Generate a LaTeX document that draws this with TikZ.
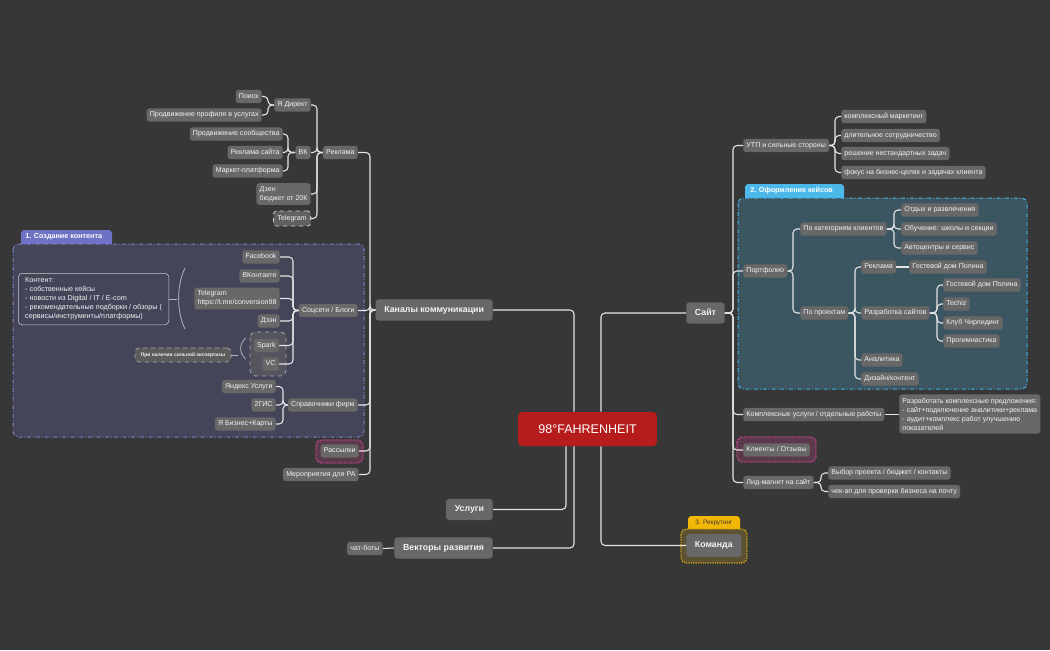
\documentclass[tikz,border=0pt]{standalone}
\usepackage{fontspec}
\setmainfont{Liberation Sans}
\usetikzlibrary{calc}
\definecolor{bgc}{HTML}{373737}
\definecolor{nodec}{HTML}{686868}
\definecolor{txtc}{HTML}{F2F2F2}
\definecolor{linec}{HTML}{E4E4E4}
\definecolor{brkc}{HTML}{B4B4B4}
\definecolor{purfill}{HTML}{45455A}
\definecolor{purline}{HTML}{7C80C8}
\definecolor{purtab}{HTML}{6E72C4}
\definecolor{tealfill}{HTML}{3C5661}
\definecolor{tealline}{HTML}{46B0E2}
\definecolor{tealtab}{HTML}{4CB8EA}
\definecolor{pinkfill}{HTML}{5A3A4A}
\definecolor{pinkline}{HTML}{C4438E}
\definecolor{yelfill}{HTML}{5C5233}
\definecolor{yelline}{HTML}{D6A80C}
\definecolor{yeltab}{HTML}{F2B705}
\definecolor{redc}{HTML}{B71C1C}
\definecolor{sparkfill}{HTML}{55555F}
\definecolor{dashc}{HTML}{A8A8A8}
\definecolor{kontc}{HTML}{CDCDCD}
\definecolor{expfill}{HTML}{5C5C5C}
\definecolor{tabtxt}{HTML}{3A3A3A}
\tikzset{
  conn/.style={draw=linec, line width=0.8pt, rounded corners=3pt},
  brk/.style={draw=brkc, line width=0.6pt},
  grpborder/.style={line width=0.75pt, dash pattern=on 3pt off 1.4pt on 0.7pt off 1.4pt, rounded corners=4pt},
  dotborder/.style={line width=1.1pt, dash pattern=on 0.9pt off 0.9pt, rounded corners=4pt},
  base/.style={fill=nodec, text=txtc, rounded corners=2.2pt, inner xsep=2.4pt},
  leaf/.style={base, font=\fontsize{5.3}{6.4}\selectfont, inner ysep=0pt, minimum height=10.1pt, text height=4.1pt, text depth=1.3pt},
  leafL/.style={leaf, anchor=east},
  leafR/.style={leaf, anchor=west},
  multi/.style={base, font=\fontsize{5.3}{6.75}\selectfont, align=left, inner ysep=2.4pt},
  mainn/.style={base, font=\bfseries\fontsize{6.6}{8}\selectfont, inner xsep=6.5pt, inner ysep=0pt, minimum height=15.8pt, text height=5pt, text depth=1.5pt},
  tabtext/.style={text=white, font=\bfseries\fontsize{5.4}{6}\selectfont, inner sep=0pt, anchor=west},
}
\begin{document}
\begin{tikzpicture}[x=0.75pt,y=-0.75pt]
\fill[bgc] (0,0) rectangle (1050,650);
\useasboundingbox (0,0) rectangle (1050,650);

% ---------- group backgrounds ----------
\fill[purtab, rounded corners=2.5pt] (21,230) rectangle (112,248);
\path[fill=purfill, draw=purline, grpborder] (13,244) rectangle (364,437);
\node[tabtext] (tab1) at (25,237) {1. Создание контента};

\fill[tealtab, rounded corners=2.5pt] (745,184) rectangle (844,201);
\path[fill=tealfill, draw=tealline, grpborder] (738,198) rectangle (1027,389);
\node[tabtext] (tab2) at (750,190.5) {2. Оформление кейсов};

\path[fill=sparkfill, draw=dashc, dashed, line width=0.6pt, rounded corners=4pt] (250,332) rectangle (286,376);
\path[fill=pinkfill, draw=pinkline, dotborder] (316,440) rectangle (363,463);
\path[fill=pinkfill, draw=pinkline, dotborder] (737,437) rectangle (816,462);

\fill[yeltab, rounded corners=2.5pt] (688,516) rectangle (740,532);
\path[fill=yelfill, draw=yelline, dotborder] (681,529) rectangle (747,563);
\node[text=tabtxt, font=\fontsize{4.8}{5.5}\selectfont, inner sep=0pt] (tab3) at (714,522.5) {3. Рекрутинг};

% ---------- centre ----------
\node[fill=redc, text=white, rounded corners=3pt, minimum width=104pt, minimum height=25.5pt,
      font=\fontsize{9.4}{10}\selectfont, inner sep=0pt] (center) at (587.5,429) {98°FAHRENHEIT};

% ---------- main branches ----------
\node[mainn, anchor=east] (kanaly) at (493,310) {Каналы коммуникации};
\node[mainn, anchor=east] (uslugi) at (493,509.5) {Услуги};
\node[mainn, anchor=east] (vektory) at (493,548) {Векторы развития};
\node[mainn, anchor=west] (sait) at (686,313) {Сайт};
\node[mainn, anchor=west, minimum height=17pt] (komanda) at (686,545.5) {Команда};

% ---------- left: Реклама ----------
\node[leafL] (poisk) at (262,96.5) {Поиск};
\node[leafL] (prodv) at (262,115) {Продвижение профиля в услугах};
\node[leafL] (direct) at (311,105) {Я Директ};
\node[leafL] (soob) at (283,134) {Продвижение сообщества};
\node[leafL] (rsite) at (283,152.5) {Реклама сайта};
\node[leafL] (market) at (283,171) {Маркет-платформа};
\node[leafL] (vk) at (311,152.5) {ВК};
\node[leafL] (reklama) at (358,152.5) {Реклама};
\node[multi, anchor=east] (dzen1) at (311,194) {Дзен\\бюджет от 20К};
\node[leafL, fill=nodec!92!black, draw=kontc, dashed, line width=0.6pt, minimum height=11.3pt, inner xsep=3pt] (tg1) at (311,218.5) {Telegram};

% ---------- left: Соцсети ----------
\node[leafL] (facebook) at (280,257) {Facebook};
\node[leafL] (vkont) at (280,276) {ВКонтакте};
\node[multi, anchor=east] (tgsoc) at (280,298.5) {Telegram\\https://t.me/conversion98};
\node[leafL] (dzen2) at (280,321) {Дзэн};
\node[leafL] (spark) at (279,345.5) {Spark};
\node[leafL] (vc) at (279,364) {VC};
\node[leafL] (socseti) at (358,310.5) {Соцсети / Блоги};
\node[draw=kontc, rounded corners=3pt, anchor=north west, align=left, text=txtc,
      font=\fontsize{5.4}{6.75}\selectfont, inner xsep=5.2pt, inner ysep=3.4pt] (kontent) at (18,273)
 {Контент:\\- собственные кейсы\\- новости из Digital / IT / E-com\\- рекомендательные подборки / обзоры (\\сервисы/инструменты/платформы)};
\node[fill=expfill, draw=dashc, dashed, line width=0.6pt, rounded corners=3pt, text=txtc,
      font=\bfseries\fontsize{3.7}{4}\selectfont, minimum width=72pt, minimum height=10.5pt, inner sep=0pt] (expert) at (183,355) {При наличии сильной экспертизы};

% ---------- left: Справочники ----------
\node[leafL] (yusl) at (276,386.5) {Яндекс Услуги};
\node[leafL] (dgis) at (276,405) {2ГИС};
\node[leafL] (ybiz) at (276,424) {Я Бизнес+Карты};
\node[leafL] (sprav) at (358,405) {Справочники фирм};
\node[leafL] (rass) at (359,451) {Рассылки};
\node[leafL] (merop) at (359,474.5) {Мероприятия для РА};
\node[leafL] (chat) at (383,548.5) {чат-боты};

% ---------- right ----------
\node[leafR] (utp) at (743,145.5) {УТП и сильные стороны};
\node[leafR] (u1) at (841,116.5) {комплексный маркетинг};
\node[leafR] (u2) at (841,135.5) {длительное сотрудничество};
\node[leafR] (u3) at (841,153.5) {решение нестандартных задач};
\node[leafR] (u4) at (841,172.5) {фокус на бизнес-целях и задачах клиента};
\node[leafR] (portf) at (743,271) {Портфолио};
\node[leafR] (pocat) at (800,229) {По категориям клиентов};
\node[leafR] (poproj) at (800,313) {По проектам};
\node[leafR] (c1) at (901,210) {Отдых и развлечения};
\node[leafR] (c2) at (901,229) {Обучение: школы и секции};
\node[leafR] (c3) at (901,248) {Автоцентры и сервис};
\node[leafR] (prekl) at (861,267) {Реклама};
\node[leafR] (pgost) at (909,267) {Гостевой дом Полина};
\node[leafR] (prazr) at (861,313) {Разработка сайтов};
\node[leafR] (s1) at (943,285) {Гостевой дом Полина};
\node[leafR] (s2) at (943,304) {Techiz};
\node[leafR] (s3) at (943,323) {Клуб Чирлидинг};
\node[leafR] (s4) at (943,341) {Прогимнастика};
\node[leafR] (pan) at (861,360) {Аналитика};
\node[leafR] (pdiz) at (861,379) {Дизайн/контент};
\node[leafR] (kompl) at (743,414.5) {Комплексные услуги / отдельные работы};
\node[multi, anchor=west, inner ysep=2.6pt] (razrab) at (899,414)
 {Разработать комплексные предложения:\\- сайт+подключение аналитики+реклама\\- аудит+комплекс работ улучшению\\показателей};
\node[leafR] (klient) at (743,450) {Клиенты / Отзывы};
\node[leafR] (lid) at (743,482.5) {Лид-магнит на сайт};
\node[leafR] (l1) at (828,473) {Выбор проекта / бюджет / контакты};
\node[leafR] (l2) at (828,491.5) {чек-ап для проверки бизнеса на почту};

% ---------- connectors: centre ----------
\draw[conn] (kanaly.east) -| ($(center.north)+(-13.5,0)$);
\draw[conn] (sait.west) -| ($(center.north)+(13.5,0)$);
\draw[conn] (uslugi.east) -| ($(center.south)+(-21.5,0)$);
\draw[conn] (vektory.east) -| ($(center.south)+(-13.5,0)$);
\draw[conn] (komanda.west) -| ($(center.south)+(13.5,0)$);

% ---------- connectors: left ----------
\foreach \c/\o in {reklama/12, socseti/12, sprav/12, rass/11, merop/11}
  \draw[conn] (kanaly.west) -| ($(\c.east)+(\o,0)$) -- (\c.east);
\foreach \c in {direct, vk, dzen1, tg1}
  \draw[conn] (reklama.west) -| ($(\c.east)+(6,0)$) -- (\c.east);
\foreach \c in {poisk, prodv}
  \draw[conn] (direct.west) -| ($(\c.east)+(6,0)$) -- (\c.east);
\foreach \c in {soob, rsite, market}
  \draw[conn] (vk.west) -| ($(\c.east)+(5,0)$) -- (\c.east);
\foreach \c/\o in {facebook/13, vkont/13, tgsoc/13, dzen2/13, spark/14, vc/14}
  \draw[conn] (socseti.west) -| ($(\c.east)+(\o,0)$) -- (\c.east);
\foreach \c in {yusl, dgis, ybiz}
  \draw[conn] (sprav.west) -| ($(\c.east)+(7,0)$) -- (\c.east);
\draw[conn] (vektory.west) -- (chat.east);

% summary brackets
\draw[brk] (185,268) .. controls (176.5,285) and (176.5,312) .. (185,329);
\draw[brk] (kontent.east) -- ++(8,0);
\draw[brk] (245.5,338) .. controls (239,345) and (239,352) .. (245.5,359);
\draw[brk] (expert.east) -- ++(7,0);

% ---------- connectors: right ----------
\foreach \c in {utp, portf, kompl, klient, lid}
  \draw[conn] (sait.east) -| ($(\c.west)+(-10,0)$) -- (\c.west);
\foreach \c in {u1, u2, u3, u4}
  \draw[conn] (utp.east) -| ($(\c.west)+(-6,0)$) -- (\c.west);
\foreach \c in {pocat, poproj}
  \draw[conn] (portf.east) -| ($(\c.west)+(-7,0)$) -- (\c.west);
\foreach \c in {c1, c2, c3}
  \draw[conn] (pocat.east) -| ($(\c.west)+(-7,0)$) -- (\c.west);
\foreach \c in {prekl, prazr, pan, pdiz}
  \draw[conn] (poproj.east) -| ($(\c.west)+(-6,0)$) -- (\c.west);
\foreach \c in {s1, s2, s3, s4}
  \draw[conn] (prazr.east) -| ($(\c.west)+(-6,0)$) -- (\c.west);
\foreach \c in {l1, l2}
  \draw[conn] (lid.east) -| ($(\c.west)+(-7,0)$) -- (\c.west);
\draw[conn] (prekl.east) -- (pgost.west);
\draw[conn] (kompl.east) -- (kompl.east -| razrab.west);
\end{tikzpicture}
\end{document}
